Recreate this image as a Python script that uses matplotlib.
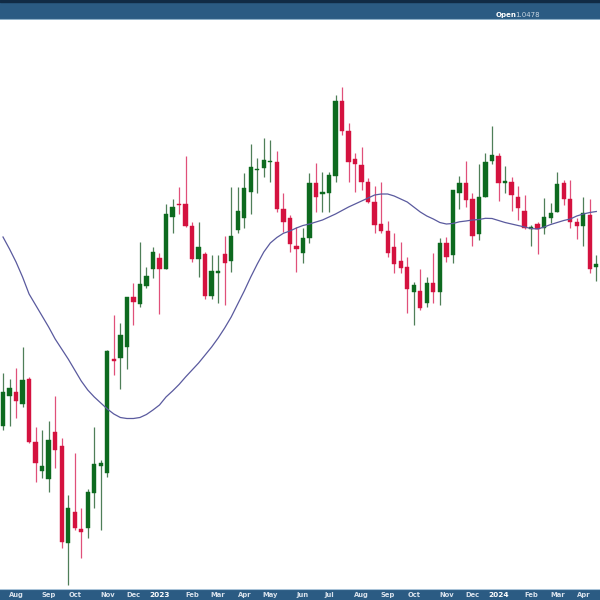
import matplotlib
matplotlib.use("Agg")
import matplotlib.pyplot as plt
import matplotlib.dates as mdates
from matplotlib.patches import Rectangle
import numpy as np
import pandas as pd

# ---------------- data (weekly candles) ----------------
start_date = "2022-07-18"
n_weeks = 92

opens = [174.3, 204.3, 208.0, 196.0, 221.0, 158.0, 129.0, 120.7, 168.0, 154.3,
         56.7, 88.3, 71.0, 72.3, 107.3, 134.0, 126.7, 241.0, 241.7, 252.7,
         302.7, 296.0, 314.3, 330.7, 341.7, 331.0, 382.7, 396.0, 395.7, 374.0,
         341.0, 345.7, 304.0, 326.7, 346.0, 339.3, 370.0, 381.7, 408.3, 429.7,
         431.7, 437.7, 438.3, 391.0, 381.7, 354.0, 346.7, 362.3, 417.3, 406.3,
         407.3, 424.3, 499.3, 469.3, 441.0, 435.0, 417.7, 398.3, 375.7, 369.3,
         352.7, 339.0, 332.7, 308.3, 309.3, 296.7, 316.7, 307.7, 356.7, 345.0,
         406.7, 416.7, 400.7, 366.0, 403.3, 439.3, 444.0, 417.3, 418.3, 402.7,
         389.0, 370.7, 376.0, 371.7, 381.7, 388.3, 417.3, 400.7, 378.3, 374.0,
         385.0, 332.7]
highs = [227.0, 221.0, 232.0, 253.3, 223.3, 173.3, 170.0, 179.3, 204.0, 162.0,
         105.0, 147.3, 92.0, 111.0, 173.3, 140.0, 250.0, 285.0, 277.0, 303.0,
         317.3, 358.3, 333.3, 352.7, 346.7, 396.0, 401.0, 413.3, 444.0, 377.7,
         378.3, 348.3, 345.0, 345.0, 364.3, 413.3, 413.3, 426.7, 456.0, 441.7,
         461.7, 460.0, 449.3, 406.7, 385.0, 373.3, 371.7, 426.7, 437.3, 427.7,
         427.7, 505.0, 513.3, 476.7, 447.3, 453.3, 421.7, 414.0, 418.3, 379.0,
         367.3, 358.3, 343.3, 318.3, 330.7, 323.3, 346.7, 361.7, 363.3, 410.0,
         424.0, 439.0, 406.7, 436.0, 446.7, 474.3, 446.7, 434.0, 423.3, 414.0,
         405.0, 375.0, 378.3, 402.3, 397.3, 428.3, 420.0, 420.0, 381.7, 402.7,
         400.7, 345.0]
lows = [170.0, 174.3, 182.0, 193.0, 157.0, 118.3, 122.0, 108.0, 132.0, 52.0,
        15.0, 70.0, 42.0, 62.0, 92.0, 70.0, 123.3, 225.0, 210.7, 230.7,
        275.0, 293.3, 311.7, 321.7, 286.0, 331.0, 366.7, 386.0, 373.3, 337.7,
        322.7, 300.7, 300.7, 297.3, 295.0, 328.3, 366.7, 371.7, 386.0, 406.7,
        423.3, 418.3, 388.3, 368.3, 348.3, 328.3, 337.3, 356.7, 388.3, 388.3,
        388.3, 417.7, 465.0, 418.3, 408.3, 410.0, 397.3, 366.7, 366.7, 343.3,
        326.7, 326.7, 286.7, 275.0, 290.0, 293.3, 296.7, 295.0, 338.3, 337.3,
        391.0, 393.3, 354.0, 360.0, 403.3, 436.0, 399.3, 407.3, 389.3, 380.0,
        370.7, 354.0, 346.0, 365.7, 376.7, 388.3, 395.0, 371.7, 360.7, 354.0,
        326.7, 319.3]
closes = [208.3, 212.3, 199.0, 220.0, 158.3, 137.3, 134.3, 160.0, 150.0, 58.3,
          92.3, 71.7, 68.3, 108.0, 136.0, 137.0, 249.3, 239.3, 265.0, 302.7,
          298.3, 316.0, 324.3, 348.3, 331.0, 386.0, 392.7, 394.7, 374.0, 341.0,
          353.3, 304.0, 329.0, 329.0, 336.7, 364.3, 389.3, 411.7, 432.7, 431.0,
          440.0, 439.0, 391.0, 378.3, 355.7, 350.7, 362.3, 417.3, 402.7, 408.0,
          425.0, 499.3, 469.3, 438.3, 436.0, 418.3, 398.3, 375.0, 369.3, 346.7,
          335.7, 332.3, 311.0, 315.0, 292.3, 317.5, 308.3, 356.7, 343.3, 410.0,
          416.7, 400.0, 364.0, 403.3, 438.3, 445.0, 417.3, 419.3, 405.0, 391.7,
          371.7, 372.7, 370.7, 382.7, 387.3, 416.0, 400.7, 378.3, 374.0, 387.3,
          331.0, 335.7]
ma_line = [363, 351, 338, 323, 306, 295, 284, 273, 261, 251,
           241, 230, 219, 210, 203, 197, 191, 186, 182.5, 181.5,
           181.5, 182.5, 185.5, 190, 195, 203, 209, 215.5, 223, 230,
           237, 245, 253, 262, 272, 283, 296, 309, 323, 336,
           348, 357, 362.5, 366.7, 369, 372, 374.5, 376, 378, 380,
           383, 386, 389.5, 393, 396, 399, 402, 405, 406, 406,
           404, 401, 398, 393, 388, 384, 381, 377.5, 376, 376.5,
           378.2, 379, 380, 380.5, 381.7, 381.5, 379.5, 377.5, 376, 374.5,
           373, 371.5, 371, 373, 375.5, 377.5, 379.5, 381, 384, 386,
           387.5, 388.5]

month_labels = ["Aug", "Sep", "Oct", "Nov", "Dec", "2023", "Feb", "Mar", "Apr",
                "May", "Jun", "Jul", "Aug", "Sep", "Oct", "Nov", "Dec", "2024",
                "Feb", "Mar", "Apr"]

header_label = "Open"
header_value = "1.0478"

# ---------------- styling ----------------
UP = "#0d6a1f"
DOWN = "#d4123f"
UP_WICK = "#4f7f58"
DOWN_WICK = "#e0507a"
MA_COLOR = "#5a5a9e"
BAR_BLUE = "#2b5b83"

dates = pd.date_range(start_date, periods=n_weeks, freq="7D")
xd = mdates.date2num(dates.to_pydatetime())

fig = plt.figure(figsize=(6, 6), dpi=100)
fig.patch.set_facecolor("white")

# main chart axes: from pixel y=20 to 589
ax = fig.add_axes([0, 11 / 600, 1, 569 / 600])
ax.set_facecolor("white")
for s in ax.spines.values():
    s.set_visible(False)
ax.set_xticks([])
ax.set_yticks([])

body_w = 4.6
for x, o, h, l, c in zip(xd, opens, highs, lows, closes):
    up = c >= o
    col = UP if up else DOWN
    wcol = UP_WICK if up else DOWN_WICK
    ax.vlines(x, l, h, color=wcol, lw=0.9, zorder=2)
    lo = min(o, c)
    hgt = max(abs(c - o), 1.6)
    if abs(c - o) < 1.6:
        lo = (o + c) / 2 - 0.8
    ax.add_patch(Rectangle((x - body_w / 2, lo), body_w, hgt,
                           facecolor=col, edgecolor=col, lw=0.3, zorder=3))

ax.plot(xd, ma_line, color=MA_COLOR, lw=0.9, zorder=4)

day_per_px = 7 / 6.52
ax.set_xlim(xd[0] - 3 * day_per_px, xd[0] + 597 * day_per_px)
ax.set_ylim(11, 580)

# month label positions: first weekly candle of each month (from Aug 2022)
month_pos = []
seen = set()
for d, x in zip(dates, xd):
    key = (d.year, d.month)
    if key not in seen:
        seen.add(key)
        if not (d.year == 2022 and d.month == 7):
            month_pos.append(x)
month_pos = month_pos[:len(month_labels)]

# bottom axis bar
bax = fig.add_axes([0, 0, 1, 11 / 600])
bax.set_facecolor(BAR_BLUE)
bax.set_xlim(ax.get_xlim())
bax.set_ylim(0, 1)
bax.set_xticks([])
bax.set_yticks([])
for s in bax.spines.values():
    s.set_visible(False)
bax.axhline(0.97, color="#a9c3d8", lw=0.8)
for lab, x in zip(month_labels, month_pos):
    is_year = lab.isdigit()
    bax.text(x, 0.42, lab, ha="center", va="center",
             fontsize=5.3 if is_year else 4.9,
             fontweight="bold",
             color="white" if is_year else "#d9e2ec")

# top header bar
hax = fig.add_axes([0, 1 - 20 / 600, 1, 20 / 600])
hax.set_facecolor(BAR_BLUE)
hax.set_xlim(0, 600)
hax.set_ylim(20, 0)
hax.set_xticks([])
hax.set_yticks([])
for s in hax.spines.values():
    s.set_visible(False)
hax.axhspan(0, 1.6, color="#112b45")
hax.axhline(19.4, color="#8fb0c8", lw=0.8)
hax.text(496, 15.0, header_label, fontsize=5.0, fontweight="bold",
         color="white", ha="left", va="center")
hax.text(515.5, 15.0, header_value, fontsize=5.0, color="#c9d6e2",
         ha="left", va="center")

fig.savefig("out.png", dpi=100)
